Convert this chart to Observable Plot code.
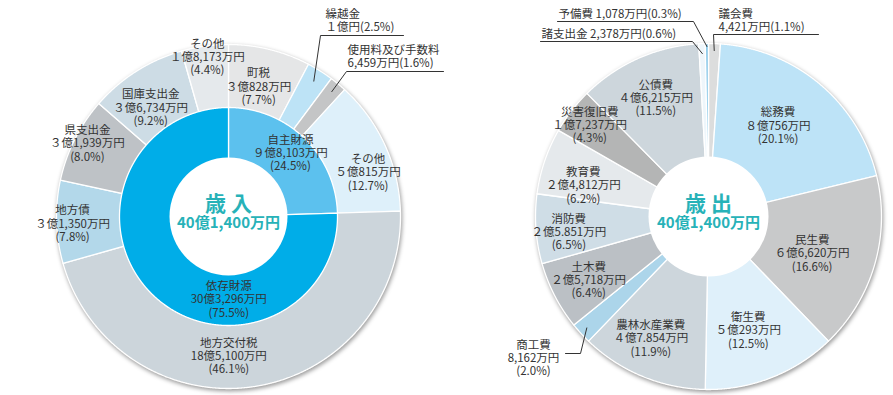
<!DOCTYPE html>
<html><head><meta charset="utf-8">
<script src="https://cdn.jsdelivr.net/npm/d3@7"></script>
<script src="https://cdn.jsdelivr.net/npm/@observablehq/plot@0.6"></script>
<style>
html,body{margin:0;padding:0;background:#fff;}
g[aria-description="outer-ring"]{filter:drop-shadow(1.5px 2px 2px rgba(0,0,0,0.4));}
</style></head><body><div id="chart"></div>
<script>
// ---------- data ----------
const totalTitles = ["歳 入", "歳 出"];
const totalAmount = "40億1,400万円";

const revenueGroups = ["自主財源", "依存財源"];
const revenueGroupAmounts = ["９億8,103万円", "30億3,296万円"];
const revenueGroupShares = [24.5, 75.5];

const revenueItems = ["町税", "繰越金", "使用料及び手数料", "その他", "地方交付税", "地方債", "県支出金", "国庫支出金", "その他"];
const revenueAmounts = ["３億828万円", "１億円", "6,459万円", "５億815万円", "18億5,100万円", "３億1,350万円", "３億1,939万円", "３億6,734万円", "１億8,173万円"];
const revenueShares = [7.7, 2.5, 1.6, 12.7, 46.1, 7.8, 8.0, 9.2, 4.4];

const expenseItems = ["議会費", "総務費", "民生費", "衛生費", "農林水産業費", "商工費", "土木費", "消防費", "教育費", "災害復旧費", "公債費", "諸支出金", "予備費"];
const expenseAmounts = ["4,421万円", "８億756万円", "６億6,620万円", "５億293万円", "４億7.854万円", "8,162万円", "２億5,718万円", "２億5.851万円", "２億4,812万円", "１億7,237万円", "４億6,215万円", "2,378万円", "1,078万円"];
const expenseShares = [1.1, 20.1, 16.6, 12.5, 11.9, 2.0, 6.4, 6.5, 6.2, 4.3, 11.5, 0.6, 0.3];

// ---------- styles ----------
const revenueGroupColors = ["#5cc1ee", "#00ade8"];
const revenueColors = ["#e5e6e7", "#bde3f6", "#c4c5c6", "#def0fa", "#ccd5db", "#b3d8ea", "#bec2c6", "#cddce5", "#e5e9ec"];
const expenseColors = ["#dcdddd", "#bde3f7", "#c8c9ca", "#dff0fa", "#cdd6dc", "#acd5ea", "#bbc0c5", "#cfdde6", "#e5e9ec", "#b4b5b5", "#cdd6dc", "#eef6fb", "#8fcbea"];
const teal = "#27b2b8";
const textColor = "#333";

// ---------- layout ----------
const LC = {cx: 228, cy: 216, hole: 59, inner: 109, outer: 172};
const RC = {cx: 708, cy: 216, hole: 60, outer: 173};
// in-slice label radius and nudge [r, dx, dy]; null = outside label
const revenueLabelPos = [[134, -2, 0], null, null, [147, 6, 17], [139, -21, 2], [156, 0, 2], [159, 1, -2], [134, -6, 4], [161, 1, 0]];
const revenueGroupLabelPos = [[89, 0, 0], [83, 58, 23]];
const expenseLabelPos = [null, [114, -4, -4], [110, -2, 6], [120, -4, 2], [135, -6, -3], null, [136, 1, 1], [141, 1, 5], [129, -3, 10], [150, 0, 0], [130, 0, 0], null, null];

function polar(c, a, r) { return {x: c.cx + r * Math.sin(a), y: c.cy - r * Math.cos(a)}; }
function pie(shares) { return d3.pie().sort(null).value(d => d)(shares); }
function slices(shares, colors, prefix, c, radius) {
  const pts = [];
  pie(shares).forEach((a, i) => {
    const key = prefix + i, color = colors[i];
    pts.push({key, color, x: c.cx, y: c.cy});
    const n = Math.max(2, Math.ceil((a.endAngle - a.startAngle) / 0.004));
    for (let k = 0; k <= n; k++) {
      const t = a.startAngle + (a.endAngle - a.startAngle) * k / n;
      pts.push({key, color, ...polar(c, t, radius)});
    }
    pts.push({key, color, x: c.cx, y: c.cy});
  });
  return pts;
}
const pct = v => `(${v.toFixed(1)}%)`;
function inLabels(names, amounts, shares, pos, c) {
  const arcs = pie(shares);
  const out = [];
  names.forEach((n, i) => {
    if (!pos[i]) return;
    const [r, dx, dy] = pos[i];
    const p = polar(c, (arcs[i].startAngle + arcs[i].endAngle) / 2, r);
    out.push({x: p.x + dx, y: p.y + dy, text: `${n}\n${amounts[i]}\n${pct(shares[i])}`});
  });
  return out;
}
function midPt(shares, i, c, r) {
  const a = pie(shares)[i];
  return polar(c, (a.startAngle + a.endAngle) / 2, r);
}

// outside labels with leader lines
const outside = [
  {text: `${revenueItems[1]}\n${revenueAmounts[1]}${pct(revenueShares[1])}`, x: 325, y: 20, anchor: "start",
   line: [[403, 35], [320, 35], midPt(revenueShares, 1, LC, 160)]},
  {text: `${revenueItems[2]}\n${revenueAmounts[2]}${pct(revenueShares[2])}`, x: 347, y: 56, anchor: "start",
   line: [[443, 71], [346, 71], midPt(revenueShares, 2, LC, 162)]},
  {text: `${expenseItems[0]}\n${expenseAmounts[0]}${pct(expenseShares[0])}`, x: 718, y: 20, anchor: "start",
   line: [[818, 34], [713, 34], midPt(expenseShares, 0, RC, 166)]},
  {text: `${expenseItems[12]} ${expenseAmounts[12]}${pct(expenseShares[12])}`, x: 558, y: 13, anchor: "start",
   line: [[557, 21], [693, 21], midPt(expenseShares, 12, RC, 170)]},
  {text: `${expenseItems[11]} ${expenseAmounts[11]}${pct(expenseShares[11])}`, x: 541, y: 33, anchor: "start",
   line: [[540, 41], [692, 41], midPt(expenseShares, 11, RC, 163)]},
  {text: `${expenseItems[5]}\n${expenseAmounts[5]}\n${pct(expenseShares[5])}`, x: 533, y: 357, anchor: "middle",
   line: [[565, 353], [580, 353], midPt(expenseShares, 5, RC, 165)]}
];
const leaderPts = [];
outside.forEach((o, i) => o.line.forEach(p => leaderPts.push({k: i, x: Array.isArray(p) ? p[0] : p.x, y: Array.isArray(p) ? p[1] : p.y})));

const labelsMid = [
  ...inLabels(revenueItems, revenueAmounts, revenueShares, revenueLabelPos, LC),
  ...inLabels(revenueGroups, revenueGroupAmounts, revenueGroupShares, revenueGroupLabelPos, LC),
  ...inLabels(expenseItems, expenseAmounts, expenseShares, expenseLabelPos, RC),
  ...outside.filter(o => o.anchor === "middle")
];
const labelsStart = outside.filter(o => o.anchor === "start");
const centers = [{x: LC.cx, y: LC.cy, t: totalTitles[0]}, {x: RC.cx, y: RC.cy, t: totalTitles[1]}];

const sliceOpts = {x: "x", y: "y", z: "key", fill: "color", stroke: "white", strokeWidth: 1.3, curve: "linear"};

const chart = Plot.plot({
  width: 893, height: 395, margin: 0,
  x: {domain: [0, 893], range: [0, 893], axis: null},
  y: {domain: [0, 395], range: [0, 395], axis: null},
  color: {type: "identity"},
  style: {fontFamily: "'Noto Sans CJK JP', 'Noto Sans', sans-serif", fontSize: "11.5px", color: textColor, background: "white"},
  marks: [
    Plot.line(slices(revenueShares, revenueColors, "ro", LC, LC.outer), {...sliceOpts, ariaDescription: "outer-ring"}),
    Plot.line(slices(expenseShares, expenseColors, "eo", RC, RC.outer), {...sliceOpts, ariaDescription: "outer-ring"}),
    Plot.line(slices(revenueGroupShares, revenueGroupColors, "ri", LC, LC.inner), sliceOpts),
    Plot.dot([LC], {x: "cx", y: "cy", r: LC.hole, fill: "white", stroke: "none"}),
    Plot.dot([RC], {x: "cx", y: "cy", r: RC.hole, fill: "white", stroke: "none"}),
    Plot.line(leaderPts, {x: "x", y: "y", z: "k", stroke: "#333", strokeWidth: 1, curve: "linear"}),
    Plot.text(labelsMid, {x: "x", y: "y", text: "text", fill: textColor, lineHeight: 1.15, textAnchor: "middle"}),
    Plot.text(labelsStart, {x: "x", y: "y", text: "text", fill: textColor, lineHeight: 1.15, textAnchor: "start"}),
    Plot.text(centers, {x: "x", y: d => d.y - 12, text: "t", fill: teal, fontSize: 21, fontWeight: "bold"}),
    Plot.text(centers, {x: "x", y: d => d.y + 7, text: () => totalAmount, fill: teal, fontSize: 15, fontWeight: "bold"})
  ]
});
document.getElementById("chart").append(chart);
</script></body></html>
